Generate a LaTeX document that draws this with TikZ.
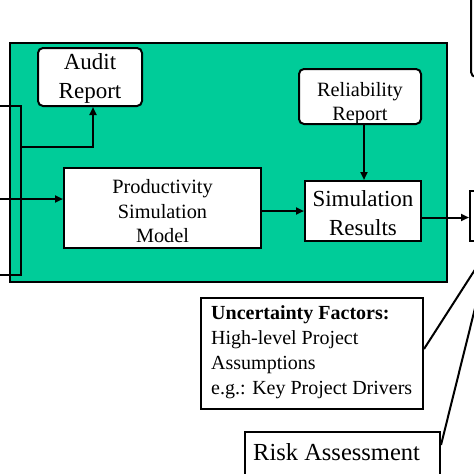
\documentclass[tikz,border=0pt]{standalone}
\usepackage{fontspec}
\setmainfont{Liberation Serif}
\usetikzlibrary{arrows.meta,calc}
\definecolor{panelgreen}{RGB}{0,204,153}
\begin{document}
\begin{tikzpicture}[x=1pt,y=-1pt,
  line/.style={draw=black, line width=2pt},
  box/.style={line, fill=white, inner sep=0pt, anchor=north west},
  rbox/.style={box, rounded corners=5pt},
  arr/.style={line, -{Triangle[length=8pt,width=7pt]}},
  big/.style={font=\fontsize{23}{29}\selectfont, align=center, inner sep=0pt},
  mid/.style={font=\fontsize{20.3}{24.5}\selectfont, align=center, inner sep=0pt},
  unc/.style={font=\fontsize{20}{25}\selectfont, align=left, inner sep=0pt},
]
\useasboundingbox (0,0) rectangle (474,474);
\fill[white] (0,0) rectangle (474,474);
% green panel
\node[line, fill=panelgreen, inner sep=0pt, anchor=north west, minimum width=437pt, minimum height=239pt] (panel) at (9,42) {};
% boxes
\node[rbox, minimum width=104pt, minimum height=58pt] (audit) at (37,47) {};
\node[big] (audittxt) at ($(audit.center)+(0,1)$) {Audit\\Report};
\node[box, minimum width=197pt, minimum height=80pt] (prod) at (63,167) {};
\node[mid] (prodtxt) at ($(prod.center)+(0,3.5)$) {Productivity\\Simulation\\Model};
\node[rbox, minimum width=122pt, minimum height=55pt] (rel) at (298,68) {};
\node[mid] (reltxt) at ($(rel.center)+(0,7)$) {Reliability\\Report};
\node[box, minimum width=116pt, minimum height=60pt] (sim) at (304,180) {};
\node[big] (simtxt) at ($(sim.center)+(0,2)$) {Simulation\\Results};
\node[box, minimum width=40pt, minimum height=50pt] (rb) at (469,190) {};
\node[rbox, minimum width=40pt, minimum height=96pt] (tr) at (470,-20) {};
\node[box, minimum width=222pt, minimum height=111pt] (unc) at (200,297) {};
\node[unc, anchor=west] (unctxt) at (211,352.5) {\textbf{Uncertainty Factors:}\\High-level Project\\Assumptions\\e.g.: Key Project Drivers};
\node[box, minimum width=195pt, minimum height=60pt] (risk) at (244,431) {};
\node[font=\fontsize{24.5}{29}\selectfont, inner sep=0pt, anchor=base west] (risktxt) at (253,460) {Risk Assessment};
% left connectors
\coordinate (L1) at (0,106);
\coordinate (L2) at (0,275);
\coordinate (L3) at (0,199);
\coordinate (vt) at (21,106);
\coordinate (vb) at (21,275);
\coordinate (vm) at (21,147);
\draw[line] (L1) -- (vt) -- (vb) -- (L2);
\draw[arr] (vm) -| ([xshift=3pt]audit.south);
\draw[arr] (L3) -- (L3 -| prod.west);
% inner connectors
\draw[arr] (prod.east |- sim.west) -- (sim.west);
\draw[arr] ([xshift=4pt]rel.south) -- ([xshift=4pt]rel.south |- sim.north);
\draw[arr] ([yshift=-6.5pt]sim.east) -- ([yshift=-6.5pt]sim.east -| rb.west);
% lines to the right
\coordinate (ue) at (494,240);
\coordinate (re) at (486,264);
\draw[line] ([yshift=4.5pt]unc.east) -- (ue);
\draw[line] ([yshift=-14pt]risk.north east) -- (re);
\end{tikzpicture}
\end{document}
